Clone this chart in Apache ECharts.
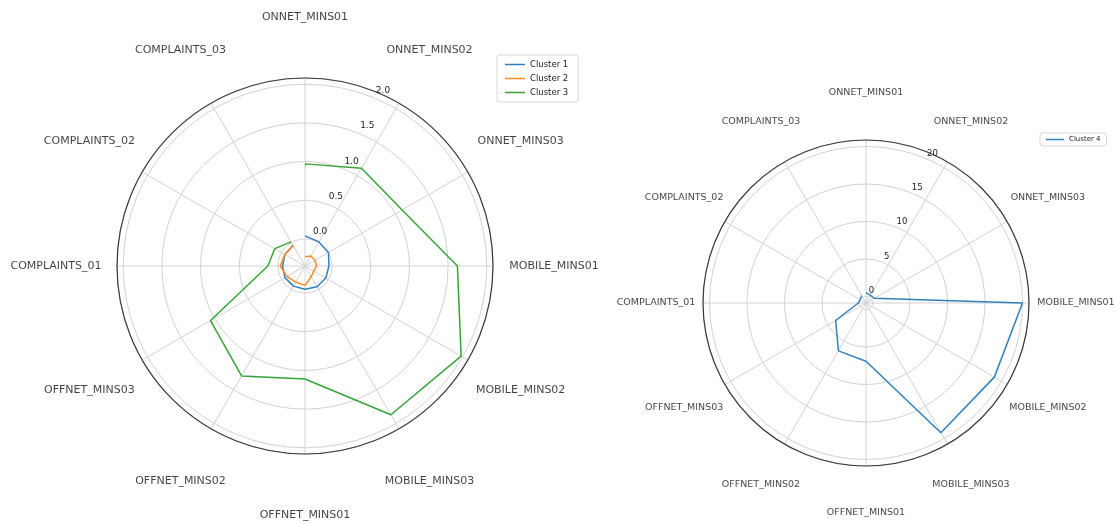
<!DOCTYPE html>
<html><head><meta charset="utf-8">
<script src="https://cdn.jsdelivr.net/npm/echarts@6/dist/echarts.min.js"></script>
<style>html,body{margin:0;padding:0;background:#fff}#c{width:1115px;height:524px}</style>
</head><body><div id="c"></div><script>
const categories = ['ONNET_MINS01','ONNET_MINS02','ONNET_MINS03','MOBILE_MINS01','MOBILE_MINS02','MOBILE_MINS03','OFFNET_MINS01','OFFNET_MINS02','OFFNET_MINS03','COMPLAINTS_01','COMPLAINTS_02','COMPLAINTS_03'];
const cluster1 = [0.04, 0.01, 0.0, -0.04, -0.04, -0.04, -0.05, -0.05, -0.05, -0.06, -0.05, -0.04];
const cluster2 = [-0.23, -0.2, -0.2, -0.2, -0.22, -0.19, -0.1, -0.11, -0.08, -0.03, -0.05, -0.045];
const cluster3 = [0.97, 1.11, 1.10, 1.62, 1.98, 1.87, 1.11, 1.29, 1.06, 0.13, 0.10, 0.01];
const cluster4 = [0.5, 0.3, 0.4, 20.0, 18.9, 19.1, 6.9, 6.5, 3.8, 0.15, 0.05, 0.25];
const leftTickLabels = ['0.0', '0.5', '1.0', '1.5', '2.0'];
const rightTickLabels = ['0', '5', '10', '15', '20'];

const FONT = 'DejaVu Sans';
const GRID = '#d2d2d2';
const polar = [], angleAxis = [], radiusAxis = [], series = [];
const hidden = { axisLine: { show: false }, axisTick: { show: false }, axisLabel: { show: false }, splitLine: { show: false } };
function addPolar(center, radius, ang, rad) {
  const i = polar.length;
  polar.push({ center: center, radius: radius });
  angleAxis.push(Object.assign({ polarIndex: i, startAngle: 90, clockwise: true }, hidden, ang));
  radiusAxis.push(Object.assign({ polarIndex: i, type: 'value' }, hidden, rad));
  return i;
}
const catAngle = { type: 'category', data: categories, boundaryGap: false };
const fullAngle = { type: 'value', min: 0, max: 360, interval: 30 };
function pairs(vals) {
  const d = categories.map((c, i) => [vals[i], c]);
  d.push([vals[0], categories[0]]);
  return d;
}
function panel(cfg) {
  const r0 = cfg.R * (-cfg.min) / (cfg.max - cfg.min);
  // spokes + outer circle
  addPolar(cfg.center, [0, cfg.R], Object.assign({}, fullAngle, {
    axisLine: { show: true, lineStyle: { color: '#3a3a3a', width: 1.2 } },
    splitLine: { show: true, lineStyle: { color: GRID, width: 1 } } }), { min: 0, max: 1 });
  // concentric grid circles at tick values
  addPolar(cfg.center, [r0, cfg.R], Object.assign({}, fullAngle), { min: 0, max: cfg.max, interval: cfg.interval,
    splitLine: { show: true, lineStyle: { color: GRID, width: 1 } } });
  // radial tick labels
  addPolar(cfg.center, [r0 + cfg.lo, cfg.R + cfg.lo], Object.assign({}, fullAngle, { startAngle: cfg.labAngle }), { min: 0, max: cfg.max, interval: cfg.interval,
    axisLabel: { show: true, margin: 0, align: 'center', verticalAlign: 'middle', fontSize: cfg.tickFs, color: '#222', fontFamily: FONT,
      formatter: v => { const k = Math.round(v / cfg.interval); return Math.abs(v - k * cfg.interval) < 1e-6 && k < cfg.ticks.length ? cfg.ticks[k] : ''; } } });
  // data
  const pd = addPolar(cfg.center, [0, cfg.R], Object.assign({}, catAngle), { min: cfg.min, max: cfg.max });
  cfg.lines.forEach(l => series.push({ type: 'line', name: l.name, coordinateSystem: 'polar', polarIndex: pd, data: pairs(l.vals),
    symbol: 'none', clip: false, color: l.color, lineStyle: { width: 1.5, color: l.color }, z: 5 }));
  // category labels
  const pl = addPolar(cfg.center, [0, cfg.labR], Object.assign({}, catAngle), { min: 0, max: 1 });
  series.push({ type: 'scatter', coordinateSystem: 'polar', polarIndex: pl, symbolSize: 0, silent: true,
    data: categories.map(c => [1, c]),
    label: { show: true, position: 'inside', formatter: p => p.data[1], fontSize: cfg.catFs, color: '#111', fontFamily: FONT } });
}
panel({ center: [305, 266], R: 188, min: -0.35, max: 2.08, interval: 0.5, lo: 10, labAngle: 66, tickFs: 9, ticks: leftTickLabels, labR: 249, catFs: 11,
  lines: [{ name: 'Cluster 1', vals: cluster1, color: '#2f80bd' }, { name: 'Cluster 2', vals: cluster2, color: '#ff8a22' }, { name: 'Cluster 3', vals: cluster3, color: '#36a336' }] });
panel({ center: [866, 303], R: 163, min: -0.87, max: 20.87, interval: 5, lo: 7, labAngle: 66, tickFs: 8.5, ticks: rightTickLabels, labR: 210, catFs: 9.5,
  lines: [{ name: 'Cluster 4', vals: cluster4, color: '#2f80bd' }] });

const legendBase = { orient: 'vertical', icon: 'rect', itemWidth: 20, itemHeight: 1.5, itemGap: 5, borderColor: '#d8d8d8', borderWidth: 1, borderRadius: 3,
  backgroundColor: '#fff' };
const chart = echarts.init(document.getElementById('c'), null, { renderer: 'canvas' });
chart.setOption({
  animation: false,
  backgroundColor: '#fff',
  polar: polar, angleAxis: angleAxis, radiusAxis: radiusAxis, series: series,
  legend: [
    Object.assign({}, legendBase, { data: ['Cluster 1', 'Cluster 2', 'Cluster 3'], left: 497, top: 55, padding: [5, 10, 5, 8], textStyle: { fontFamily: FONT, color: '#222', fontSize: 8.5 } }),
    Object.assign({}, legendBase, { data: ['Cluster 4'], left: 1040, top: 133, padding: [3, 6], itemWidth: 18, textStyle: { fontFamily: FONT, color: '#222', fontSize: 7 } })
  ]
});
</script></body></html>
